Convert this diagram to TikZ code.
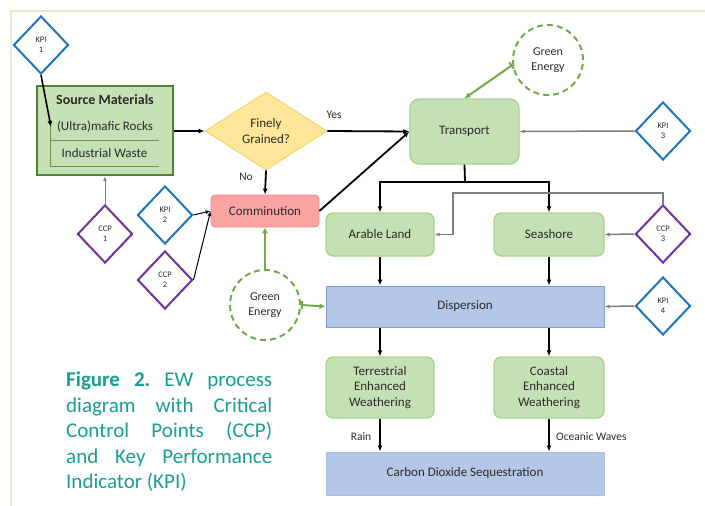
\documentclass[tikz,border=0pt]{standalone}
\usepackage{fontspec}
\setmainfont{Carlito}
\usetikzlibrary{shapes.geometric,arrows.meta,calc}
\definecolor{frameg}{HTML}{DDF0D3}
\definecolor{boxg}{HTML}{C5E0B4}
\definecolor{boxgline}{HTML}{A9D18E}
\definecolor{darkg}{HTML}{548235}
\definecolor{geg}{HTML}{70AD47}
\definecolor{kpiblue}{HTML}{1F74C2}
\definecolor{ccppurple}{HTML}{7030A0}
\definecolor{fgfill}{HTML}{FFE699}
\definecolor{fgline}{HTML}{F7CF6A}
\definecolor{commfill}{HTML}{F9A3A3}
\definecolor{commline}{HTML}{F28C8C}
\definecolor{bluefill}{HTML}{B4C7E7}
\definecolor{blueline}{HTML}{7F9FD4}
\definecolor{txt}{HTML}{2B2B2B}
\definecolor{teal}{HTML}{17A090}
\definecolor{arrgray}{HTML}{7F7F7F}
\begin{document}
\begin{tikzpicture}[x=1pt,y=-1pt,
  every node/.style={text=txt, inner sep=1pt},
  kpidia/.style={diamond, draw=kpiblue, line width=2pt, fill=white, minimum width=55pt, minimum height=58pt, inner sep=0pt, align=center, font=\fontsize{8.5}{10}\selectfont},
  ccpdia/.style={kpidia, draw=ccppurple},
  gbox/.style={rectangle, rounded corners=7pt, fill=boxg, draw=boxgline, line width=1.2pt, align=center, font=\fontsize{13}{15.5}\selectfont},
  bbox/.style={rectangle, fill=bluefill, draw=blueline, line width=1pt, align=center, font=\fontsize{13}{15.5}\selectfont},
  gecirc/.style={circle, draw=geg, dash pattern=on 6pt off 4pt, line width=2pt, minimum size=70pt, inner sep=0pt, align=center, font=\fontsize{12}{15}\selectfont},
  blk/.style={draw=black, line width=1.8pt, -{Latex[length=6pt,width=5pt]}},
  thinblk/.style={draw=black, line width=1pt, -{Latex[length=5pt,width=4pt]}},
  gry/.style={draw=arrgray, line width=1.5pt, -{Latex[length=5pt,width=4pt]}},
  grn/.style={draw=geg, line width=2pt, -{Latex[length=6pt,width=6pt]}},
  grnbar/.style={draw=geg, line width=2pt, {Bar[width=8pt]}-{Latex[length=6pt,width=6pt]}},
  lbl/.style={font=\fontsize{11.5}{13}\selectfont}
]
\useasboundingbox (0,0) rectangle (705,506);
\fill[white] (0,0) rectangle (705,506);
\draw[frameg, line width=2pt] (11,506) -- (11,11) -- (705,11);

% Source materials
\node[rectangle, fill=boxg, draw=darkg, line width=2.2pt, minimum width=136pt, minimum height=89pt] (src) at (105,130.5) {};
\node[font=\bfseries\fontsize{14}{16}\selectfont] (srctitle) at (105,100) {Source Materials};
\node[font=\fontsize{13}{15}\selectfont] (ultra) at (105,127) {(Ultra)mafic Rocks};
\node[font=\fontsize{13}{15}\selectfont] (waste) at (104.5,153) {Industrial Waste};
\draw[darkg!80!boxg, line width=1pt] (50,121) -- (50,166);
\draw[darkg!80!boxg, line width=1pt] (50,140) -- (159,140);
\draw[darkg!80!boxg, line width=1pt] (50,166) -- (159,166);
\coordinate (ultraend) at (51,127);

% diamonds
\node[kpidia] (kpi1) at (41,45) {KPI\\1};
\node[kpidia] (kpi2) at (165,215) {KPI\\2};
\node[ccpdia] (ccp1) at (105,234) {CCP\\1};
\node[ccpdia] (ccp2) at (165,280) {CCP\\2};
\node[kpidia] (kpi3) at (663,131) {KPI\\3};
\node[ccpdia] (ccp3) at (663,234) {CCP\\3};
\node[kpidia] (kpi4) at (663,306) {KPI\\4};

% Finely grained
\node[diamond, fill=fgfill, draw=fgline, line width=0.8pt, minimum width=122pt, minimum height=78pt, inner sep=0pt, align=center, font=\fontsize{13}{16}\selectfont] (fg) at (266,131) {Finely\\Grained?};

% Comminution
\node[rectangle, rounded corners=4pt, fill=commfill, draw=commline, line width=0.8pt, minimum width=108pt, minimum height=32pt, font=\fontsize{13}{15.5}\selectfont] (comm) at (265,211) {Comminution};

% Transport etc
\node[gbox, minimum width=109pt, minimum height=65pt, rounded corners=9pt] (trans) at (464.5,131.5) {Transport};
\node[gbox, minimum width=108pt, minimum height=43pt] (arable) at (380,234.5) {Arable Land};
\node[gbox, minimum width=110pt, minimum height=43pt] (sea) at (549,234.5) {Seashore};
\node[bbox, minimum width=278pt, minimum height=41pt] (disp) at (465,306.5) {Dispersion};
\node[gbox, minimum width=108pt, minimum height=61pt] (terr) at (380,387.5) {Terrestrial\\Enhanced\\Weathering};
\node[gbox, minimum width=110pt, minimum height=61pt] (coast) at (549,387.5) {Coastal\\Enhanced\\Weathering};
\node[bbox, draw=bluefill!80!blueline, minimum width=278pt, minimum height=43pt] (co2) at (465,473.5) {Carbon Dioxide Sequestration};

% Green energy
\node[gecirc] (ge1) at (548,60) {Green\\Energy};
\node[gecirc] (ge2) at (265,305) {Green\\Energy};

% labels
\node[lbl] (yes) at (334,115) {Yes};
\node[lbl] (no) at (246,177) {No};
\node[lbl] (rain) at (361,437) {Rain};
\node[lbl, anchor=west] (ocean) at (555,437) {Oceanic Waves};

% connectors
\draw[blk, line width=1.6pt] (kpi1.south) -- (ultraend);
\draw[blk] (src.east |- fg.west) -- (fg.west);
\draw[blk] (fg.east) -- (trans.west);
\draw[blk] (fg.south) -- (comm.north);
\draw[blk] (comm.east) -- (trans.west);
\draw[grnbar] (ge1.188) -- (trans.north);
\draw[gry] (kpi3.west) -- (trans.east);
\coordinate (split) at (465,182);
\draw[draw=black, line width=1.8pt] (trans.south) -- (split);
\draw[blk] (split) -| (arable.north);
\draw[blk] (split) -| (sea.north);
\draw[gry] (ccp3.north) |- (453,193) |- (arable.east);
\draw[gry] (ccp3.west) -- (sea.east);
\draw[blk] (arable.south) -- (arable.south |- disp.north);
\draw[blk] (sea.south) -- (sea.south |- disp.north);
\draw[gry] (kpi4.west) -- (disp.east);
\draw[grn] (ge2.north) -- (comm.south);
\draw[grnbar] (ge2.east) -- (disp.west);
\draw[thinblk] (kpi2.east) -- (comm.west);
\draw[thinblk] (ccp2.east) -- (comm.west);
\draw[draw=arrgray, line width=1pt, -{Latex[length=5pt,width=4pt]}] (ccp1.north) -- (src.south);
\draw[blk] (terr.north |- disp.south) -- (terr.north);
\draw[blk] (coast.north |- disp.south) -- (coast.north);
\draw[blk] (terr.south) -- (terr.south |- co2.north);
\draw[blk] (coast.south) -- (coast.south |- co2.north);

% caption
\node[anchor=north west, inner sep=0pt, text=teal, font=\fontsize{21}{25.5}\selectfont] (caption) at (66,372) {%
\parbox{206pt}{%
\hbox to 206pt{\textbf{Figure\hfill 2.}\hfill EW\hfill process}%
\hbox to 206pt{diagram\hfill with\hfill Critical}%
\hbox to 206pt{Control\hfill Points\hfill (CCP)}%
\hbox to 206pt{and\hfill Key\hfill Performance}%
\hbox to 206pt{Indicator (KPI)\hfill}}};
\end{tikzpicture}
\end{document}
